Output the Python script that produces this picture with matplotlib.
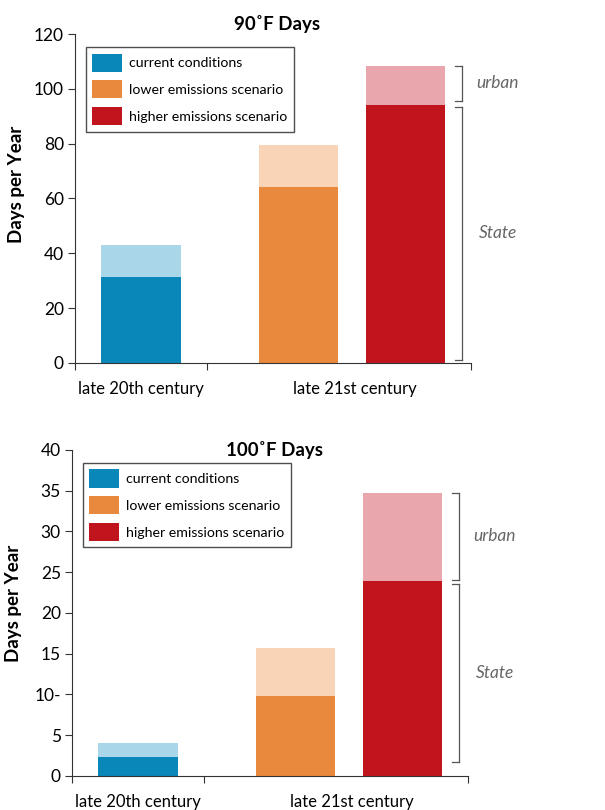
import matplotlib
matplotlib.use("Agg")
import matplotlib.pyplot as plt

plt.rcParams['font.family'] = ['Lato', 'DejaVu Sans']

# Datos
series = ["current conditions", "lower emissions scenario", "higher emissions scenario"]
bar_x = [0.5, 1.69, 2.5]

state_90 = [31.5, 64, 94]
total_90 = [43, 79.5, 108.5]

state_100 = [2.3, 9.8, 23.9]
total_100 = [4.0, 15.7, 34.7]

yticks_90 = [0, 20, 40, 60, 80, 100, 120]
yticklabels_90 = ["0", "20", "40", "60", "80", "100", "120"]
yticks_100 = [0, 5, 10, 15, 20, 25, 30, 35, 40]
yticklabels_100 = ["0", "5", "10-", "15", "20", "25", "30", "35", "40"]

dark = ["#0a87b9", "#e8893d", "#c1151d"]
light = ["#a9d6e8", "#f9d4b7", "#e9a6ac"]


def bracket(ax, x, y0, y1, label):
    kw = dict(color="#555555", lw=0.9, clip_on=False)
    ax.plot([x, x], [y0, y1], **kw)
    ax.plot([x - 0.05, x], [y0, y0], **kw)
    ax.plot([x - 0.05, x], [y1, y1], **kw)
    ax.text(3.2, (y0 + y1) / 2, label, style="italic", color="#666666",
            fontsize=12.5, ha="center", va="center", clip_on=False)


def panel(ax, state, total, yticks, ylabels, ymax, title, title_y, ylab_y, brk):
    for i in range(3):
        ax.bar(bar_x[i], state[i], width=0.6, color=dark[i], label=series[i], zorder=2)
        ax.bar(bar_x[i], total[i] - state[i], bottom=state[i], width=0.6,
               color=light[i], zorder=2)
    ax.set_xlim(0, 3)
    ax.set_ylim(0, ymax)
    ax.set_yticks(yticks)
    ax.set_yticklabels(ylabels, fontsize=12.5)
    ax.set_xticks([0, 1, 3])
    ax.set_xticklabels([])
    ax.tick_params(axis="x", length=5, color="#333333")
    ax.tick_params(axis="y", length=5, color="#333333", pad=3)
    for s in ["top", "right"]:
        ax.spines[s].set_visible(False)
    ax.spines["left"].set_color("#333333")
    ax.spines["bottom"].set_color("#333333")
    ax.set_ylabel("Days per Year", fontsize=13.5, fontweight="bold")
    ax.yaxis.set_label_coords(-0.125, ylab_y)
    ax.text(0.51, title_y, title, transform=ax.transAxes, fontsize=13.5,
            fontweight="bold", ha="center", va="center")
    ax.text(0.5, -0.055 * ymax, "late 20th century", ha="center", va="top", fontsize=12)
    ax.text(2.12, -0.055 * ymax, "late 21st century", ha="center", va="top", fontsize=12)
    leg = ax.legend(loc="upper left", bbox_to_anchor=(0.028, 0.96), fontsize=10.2,
                    frameon=True, fancybox=False, edgecolor="#222222",
                    handlelength=2.1, handleheight=1.6, borderpad=0.45,
                    labelspacing=0.6, handletextpad=0.5, borderaxespad=0)
    leg.get_frame().set_linewidth(1.0)
    # llaves
    bracket(ax, 2.93, total[2], brk[0], "urban")
    bracket(ax, 2.93, brk[1], brk[2], "State")


fig = plt.figure(figsize=(6.05, 8.1), dpi=100)
ax1 = fig.add_axes([0.124, 0.552, 0.655, 0.406])
ax2 = fig.add_axes([0.119, 0.042, 0.655, 0.4025])

panel(ax1, state_90, total_90, yticks_90, yticklabels_90, 120, "90˚F Days", 1.03,
      0.544, [95.5, 93.5, 1])
panel(ax2, state_100, total_100, yticks_100, yticklabels_100, 40, "100˚F Days", 1.0,
      0.528, [24.1, 23.5, 1.7])

fig.savefig("out.png", dpi=100)
